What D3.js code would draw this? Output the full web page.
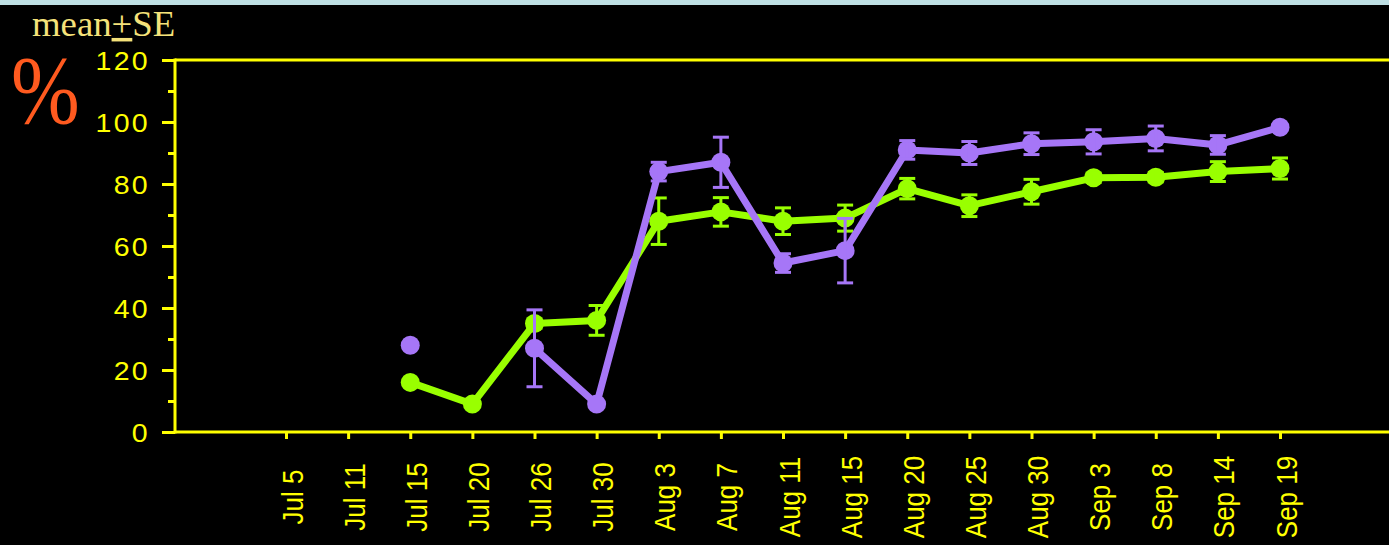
<!DOCTYPE html>
<html><head><meta charset="utf-8">
<script src="https://cdn.jsdelivr.net/npm/d3@7"></script>
<style>
html,body{margin:0;padding:0;background:#000;overflow:hidden;}
svg{display:block;}
</style></head><body>
<svg id="chart" width="1389" height="545"></svg>
<script>
// Sampling dates (evenly spaced categories on the x axis)
const categories = ["Jul 5","Jul 11","Jul 15","Jul 20","Jul 26","Jul 30","Aug 3","Aug 7","Aug 11","Aug 15","Aug 20","Aug 25","Aug 30","Sep 3","Sep 8","Sep 14","Sep 19"];
// Green series: mean % and standard error
const greenMean = [null,null,16,9,35,36,68,71,68,69,78.5,73,77.5,82,82.2,84,85];
const greenSE   = [null,null,0,0,1.5,4.8,7.5,4.6,4.3,4.2,3.3,3.5,4,1.5,1.5,3.2,3.4];
// Purple series: mean % and standard error
const purpleMean = [null,null,28,null,27,9,84,87,54.5,58.5,91,90,93,93.6,94.7,92.6,98.3];
const purpleSE   = [null,null,0,null,12.4,0,3,8.1,3,10.4,3,3.7,3.5,3.9,4,3,0];
// Axis ticks
const yMajorTicks = [0,20,40,60,80,100,120];
const yMinorTicks = [10,30,50,70,90,110];

const W = 1389, H = 545;
const axisColor = "#ffff00";
const labelColor = "#ffff00";
const greenColor = "#99ff00";
const purpleColor = "#a676f7";
const sx = 1.14; // horizontal stretch of lettering

const svg = d3.select("#chart");
svg.append("rect").attr("width", W).attr("height", H).attr("fill", "#000");
svg.append("rect").attr("width", W).attr("height", 5).attr("fill", "#bfe0e4");

const x = d3.scalePoint().domain(categories).range([286, 1280]);
const y = d3.scaleLinear().domain([0, 120]).range([432, 60]);
const left = 175, right = W + 2;

// Frame: top border, left axis, bottom axis
const frame = svg.append("g").attr("stroke", axisColor).attr("stroke-width", 3).attr("fill", "none");
frame.append("line").attr("x1", left).attr("x2", right).attr("y1", y(120)).attr("y2", y(120));
frame.append("line").attr("x1", left).attr("x2", left).attr("y1", y(120) - 1.5).attr("y2", y(0) + 1.5);
frame.append("line").attr("x1", left).attr("x2", right).attr("y1", y(0)).attr("y2", y(0));

// Y axis: major ticks with labels
const yAxis = svg.append("g").attr("transform", `translate(${left},0)`)
  .call(d3.axisLeft(y).tickValues(yMajorTicks).tickSize(13).tickFormat(d3.format("d")));
yAxis.select(".domain").remove();
yAxis.selectAll(".tick line").attr("stroke", axisColor).attr("stroke-width", 3);
yAxis.selectAll(".tick text")
  .attr("x", null).attr("dy", null)
  .attr("transform", `translate(-25,9) scale(${sx},1)`)
  .attr("fill", labelColor)
  .attr("font-family", "Liberation Sans, Arial, sans-serif")
  .attr("font-size", 25)
  .attr("letter-spacing", 2)
  .attr("text-anchor", "end");

// Y axis: minor ticks
const yMinor = svg.append("g").attr("transform", `translate(${left},0)`)
  .call(d3.axisLeft(y).tickValues(yMinorTicks).tickSize(7).tickFormat(""));
yMinor.select(".domain").remove();
yMinor.selectAll(".tick line").attr("stroke", axisColor).attr("stroke-width", 3);

// X axis: ticks and rotated date labels
const xAxis = svg.append("g").attr("transform", `translate(0,${y(0)})`)
  .call(d3.axisBottom(x).tickSize(7).tickFormat(d => d));
xAxis.select(".domain").remove();
xAxis.selectAll(".tick line").attr("stroke", axisColor).attr("stroke-width", 3);
xAxis.selectAll(".tick text")
  .attr("y", null).attr("dy", null)
  .attr("transform", `translate(16,65) scale(${sx},1) rotate(-90)`)
  .attr("fill", labelColor)
  .attr("font-family", "Liberation Sans, Arial, sans-serif")
  .attr("font-size", 26)
  .attr("text-anchor", "middle");

// Series
function drawSeries(means, ses, color) {
  const pts = categories.map((c, i) => ({ c, m: means[i], se: ses[i] }));
  const g = svg.append("g");
  const line = d3.line()
    .defined(d => d.m !== null)
    .x(d => x(d.c)).y(d => y(d.m));
  g.append("path").datum(pts).attr("d", line)
    .attr("fill", "none").attr("stroke", color).attr("stroke-width", 7)
    .attr("stroke-linejoin", "round").attr("stroke-linecap", "round");
  const valid = pts.filter(d => d.m !== null);
  g.selectAll("circle").data(valid).join("circle")
    .attr("cx", d => x(d.c)).attr("cy", d => y(d.m)).attr("r", 9.5)
    .attr("fill", color);
  const eb = g.selectAll("g.eb").data(valid.filter(d => d.se > 0)).join("g")
    .attr("stroke", color).attr("stroke-width", 3);
  eb.append("line")
    .attr("x1", d => x(d.c)).attr("x2", d => x(d.c))
    .attr("y1", d => y(d.m + d.se)).attr("y2", d => y(d.m - d.se));
  eb.append("line")
    .attr("x1", d => x(d.c) - 8).attr("x2", d => x(d.c) + 8)
    .attr("y1", d => y(d.m + d.se)).attr("y2", d => y(d.m + d.se));
  eb.append("line")
    .attr("x1", d => x(d.c) - 8).attr("x2", d => x(d.c) + 8)
    .attr("y1", d => y(d.m - d.se)).attr("y2", d => y(d.m - d.se));
}
drawSeries(greenMean, greenSE, greenColor);
drawSeries(purpleMean, purpleSE, purpleColor);

// Header annotations
const title = svg.append("text")
  .attr("transform", "translate(32,36) scale(1.05,1)")
  .attr("fill", "#f5e27a")
  .attr("font-family", "Liberation Serif, Times New Roman, serif")
  .attr("font-size", 35);
title.append("tspan").text("mean");
title.append("tspan").attr("text-decoration", "underline").text("+");
title.append("tspan").text("SE");

svg.append("text")
  .attr("transform", "translate(11,123) scale(0.85,1)")
  .attr("fill", "#ff5a1f")
  .attr("font-family", "Liberation Serif, Times New Roman, serif")
  .attr("font-size", 97)
  .text("%");
</script>
</body></html>
